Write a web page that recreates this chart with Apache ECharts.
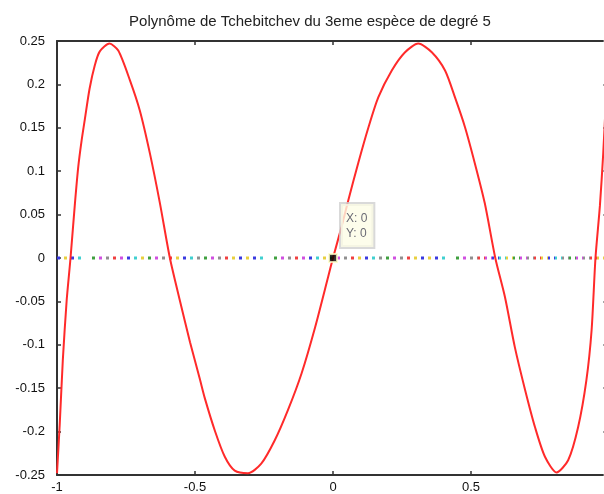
<!DOCTYPE html>
<html lang="fr">
<head>
<meta charset="utf-8">
<title>Polynôme de Tchebitchev</title>
<script src="https://cdn.jsdelivr.net/npm/echarts@6.0.0/dist/echarts.min.js"></script>
<style>
  html, body { margin: 0; padding: 0; background: #fff; }
  #main { width: 604px; height: 494px; }
</style>
</head>
<body>
<div id="main"></div>
<script type="text/javascript">
// points
var xs = [-1, -0.99, -0.979, -0.965, -0.951, -0.935, -0.923, -0.911, -0.899, -0.882, -0.863, -0.845, -0.81,
  -0.778, -0.736, -0.70, -0.663, -0.627, -0.591, -0.554, -0.518, -0.482, -0.464, -0.428, -0.392, -0.356,
  -0.308, -0.26, -0.211, -0.163, -0.114, -0.065, -0.017, 0, 0.031, 0.055, 0.092, 0.128, 0.164, 0.213,
  0.261, 0.309, 0.358, 0.406, 0.442, 0.478, 0.514, 0.55, 0.588, 0.623, 0.659, 0.696, 0.732, 0.768, 0.81,
  0.852, 0.888, 0.918, 0.937, 0.951, 0.967, 0.979, 0.99, 1];
var ys = [-0.248, -0.191, -0.118, -0.049, 0, 0.063, 0.105, 0.135, 0.16, 0.195, 0.222, 0.238, 0.247,
  0.239, 0.205, 0.17, 0.12, 0.063, 0, -0.05, -0.097, -0.14, -0.162, -0.199, -0.229, -0.245,
  -0.248, -0.237, -0.21, -0.175, -0.133, -0.08, -0.021, 0, 0.036, 0.066, 0.11, 0.15, 0.185, 0.216,
  0.237, 0.247, 0.237, 0.216, 0.185, 0.151, 0.109, 0.063, 0, -0.045, -0.103, -0.152, -0.195, -0.229, -0.247,
  -0.233, -0.195, -0.141, -0.083, 0, 0.06, 0.12, 0.19, 0.248];
var zeroLine = [[-1, 0], [1, 0]];
var tipPoint = [[0, 0]];

var dotColors = ['#3a3ae0', '#e8d040', '#3a3ae0', '#40d0d0', '#ffffff', '#40a040', '#d050e0', '#909090',
  '#f04040', '#d050e0', '#3a3ae0', '#40d0d0', '#e8d040', '#40a040', '#d050e0', '#909090', '#f04040',
  '#e8d040', '#3a3ae0', '#40d0d0', '#909090', '#40a040', '#d050e0', '#909090', '#f04040', '#e8d040'];

var chart = null;

function initChart() {
  chart = echarts.init(document.getElementById('main'), null, { renderer: 'canvas' });

  // segments de couleur pour la ligne pointillée y=0
  var n = 79;
  var stops = [];
  for (var i = 0; i < n; i++) {
    var c = dotColors[i % dotColors.length];
    stops.push({ offset: i / n, color: c });
    stops.push({ offset: (i + 1) / n - 0.0001, color: c });
  }

  var axisLine = { show: true, onZero: false, lineStyle: { color: '#333', width: 2 } };
  var tick = { inside: true, length: 4, lineStyle: { color: '#333', width: 1.5 } };
  var axisLabel = { color: '#111', fontFamily: 'Liberation Sans, Arial', fontSize: 13 };

  var option = {
    animation: false,
    title: {
      text: 'Polynôme de Tchebitchev du 3eme espèce de degré 5',
      left: 305,
      textAlign: 'center',
      top: 9,
      textStyle: { fontFamily: 'Liberation Sans, Arial', fontSize: 15, fontWeight: 'normal', color: '#222' }
    },
    grid: { left: 57, top: 41, width: 552, bottom: 19, outerBoundsMode: 'none', containLabel: false },
    xAxis: [{
      type: 'value', min: -1, max: 1, interval: 0.5,
      axisLine: axisLine, axisTick: tick,
      axisLabel: Object.assign({ margin: 6 }, axisLabel),
      splitLine: { show: false }
    }, {
      type: 'value', min: -1, max: 1, interval: 0.5, position: 'top',
      axisLine: axisLine, axisTick: tick,
      axisLabel: { show: false },
      splitLine: { show: false }
    }],
    yAxis: [{
      type: 'value', min: -0.25, max: 0.25, interval: 0.05,
      axisLine: axisLine, axisTick: tick,
      axisLabel: Object.assign({ margin: 12 }, axisLabel),
      splitLine: { show: false }
    }, {
      type: 'value', min: -0.25, max: 0.25, interval: 0.05, position: 'right',
      axisLine: axisLine,
      axisTick: { inside: true, length: 6, lineStyle: { color: '#888', width: 1.5 } },
      axisLabel: { show: false },
      splitLine: { show: false }
    }],
    series: [{
      name: 'zero',
      type: 'line',
      data: zeroLine,
      symbol: 'none',
      silent: true,
      lineStyle: { width: 3, type: [3, 4], color: new echarts.graphic.LinearGradient(0, 0, 1, 0, stops) }
    }, {
      name: 'T5',
      type: 'line',
      data: xs.map(function (x, i) { return [x, ys[i]]; }),
      symbol: 'none',
      smooth: 0.25,
      lineStyle: { color: '#ff2a2a', width: 2 },
      z: 3
    }, {
      name: 'datatip',
      type: 'scatter',
      data: tipPoint,
      symbol: 'rect',
      symbolSize: 8,
      itemStyle: { color: '#000', borderColor: '#ffffc8', borderWidth: 2 },
      z: 5,
      label: {
        show: true,
        position: [13, -49],
        formatter: function (p) { return 'X: ' + p.value[0] + '\nY: ' + p.value[1]; },
        backgroundColor: '#fdfde6',
        borderColor: '#cfcfcf',
        borderWidth: 2,
        padding: [7, 6, 6, 5],
        lineHeight: 15,
        fontFamily: 'Liberation Sans, Arial',
        fontSize: 12,
        color: '#445'
      }
    }]
  };
  chart.setOption(option);
}

initChart();
</script>
</body>
</html>
